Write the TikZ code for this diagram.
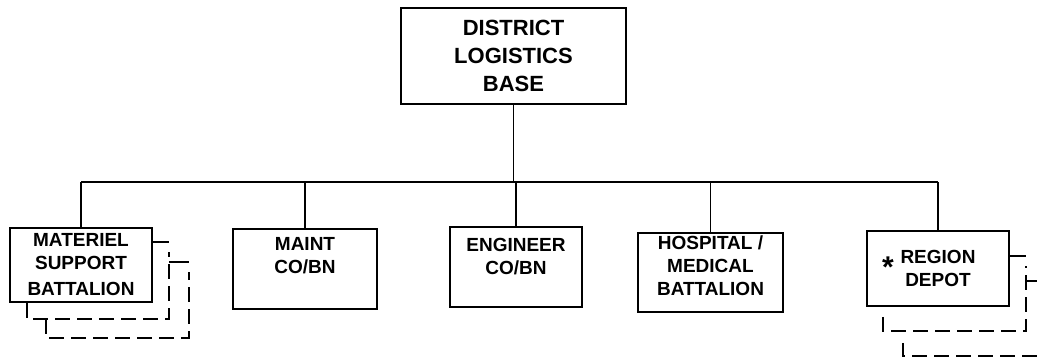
\documentclass[tikz,border=0pt]{standalone}
\usepackage{fontspec}
\setmainfont{Liberation Sans}
\usetikzlibrary{positioning, calc}

\begin{document}
\begin{tikzpicture}[
  x=1pt, y=-1pt,
  box/.style={rectangle, draw, line width=1.8pt, align=center, inner sep=2pt, font=\bfseries\fontsize{19}{23}\selectfont},
  line/.style={line width=1.8pt},
  shadow/.style={line width=1.7pt, dash pattern=on 15pt off 7pt}
]
\useasboundingbox (0,0) rectangle (1037,360);
\clip (0,0) rectangle (1037,360);

\node (dlb) [box, minimum width=225pt, minimum height=96pt, font=\bfseries\fontsize{22}{28}\selectfont] at (513.5,56) {DISTRICT\\LOGISTICS\\BASE};
\coordinate (bar) at (517,182);

\node (msb) [box, minimum width=142pt, minimum height=74pt] at (81,265) {MATERIEL\\SUPPORT\\[3pt]BATTALION};
\node (maint) [box, minimum width=144pt, minimum height=80pt] at (305,269) {MAINT\\CO/BN\\[5pt]\mbox{}};
\node (eng) [box, minimum width=132pt, minimum height=80pt] at (516,267) {ENGINEER\\CO/BN\\[-1pt]\mbox{}};
\node (hosp) [box, minimum width=145pt, minimum height=79pt] at (710.5,272.5) {HOSPITAL /\\MEDICAL\\BATTALION\\[-9pt]\mbox{}};
\node (rd) [box, minimum width=142pt, minimum height=75pt] at (938,268.5) {REGION\\DEPOT};
\node (star) [font=\bfseries\fontsize{30}{30}\selectfont, inner sep=0pt] at (888,267) {*};

% tree
\draw[line] (dlb.south) -- (dlb.south |- bar);
\draw[line] (msb.north |- bar) -- (rd.north |- bar);
\foreach \n in {msb, maint, eng, hosp, rd}
  \draw[line] (\n.north |- bar) -- (\n.north);

% stacked units
\draw[shadow] ([xshift=18pt]msb.south west) |- ([xshift=16pt,yshift=-16pt]msb.south east) -- ++(0,-67);
\draw[line] ([yshift=-15pt]msb.north east) -- ++(16,0);
\draw[shadow] ([xshift=37pt,yshift=-16pt]msb.south west) |- ([xshift=36pt,yshift=-35pt]msb.south east) -- ++(0,-66);
\draw[line] ([xshift=16pt,yshift=-35pt]msb.north east) -- ++(20,0);
\draw[shadow] ([xshift=17pt,yshift=-10pt]rd.south west) |- ([xshift=16pt,yshift=-24pt]rd.south east) -- ++(0,-65);
\draw[line] ([yshift=-26pt]rd.north east) -- ++(16,0);
\draw[shadow] ([xshift=37pt,yshift=-36pt]rd.south west) |- ([xshift=36pt,yshift=-49pt]rd.south east) -- ++(0,-65);
\draw[line] ([xshift=16pt,yshift=-51pt]rd.north east) -- ++(20,0);

\end{tikzpicture}
\end{document}
